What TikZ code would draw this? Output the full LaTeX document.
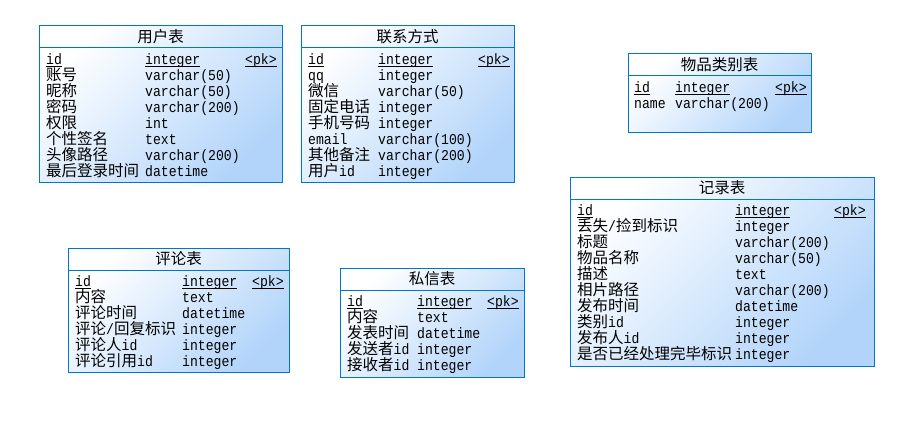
\documentclass[tikz,border=0pt]{standalone}
\usepackage{fontspec}
\newfontfamily\cjk{Noto Sans CJK SC}
\newfontfamily\lat[FakeStretch=0.875]{Liberation Mono}
\newcommand\zh[1]{{\cjk\fontsize{15.5}{16}\selectfont #1}}
\newcommand\ul[1]{\setbox0\hbox{#1}\rlap{\vrule height -1.2pt depth 2.2pt width \wd0}\box0}
\definecolor{erline}{RGB}{0,120,200}
\definecolor{erfill}{RGB}{178,212,250}
\tikzset{
  tbox/.style={draw=erline, line width=1pt, inner sep=0pt, outer sep=0pt,
    top color=white, bottom color=erfill, shading angle=45, anchor=north west},
  hline/.style={draw=erline, line width=1pt},
  ttl/.style={inner sep=0pt, font=\lat\fontsize{15}{16}\selectfont},
  cell/.style={inner sep=0pt, anchor=base west, font=\lat\fontsize{15}{16}\selectfont},
}
\newcommand\ertable[6]{%
  \node[tbox, minimum width=#4pt, minimum height=#5pt] (#1) at (#2,#3) {};
  \draw[hline] ([yshift=-22pt]#1.north west) -- ([yshift=-22pt]#1.north east);
  \node[ttl] (#1-t) at ([yshift=-11pt]#1.north) {\zh{#6}};}
\newcommand\erow[6]{%
  \node[cell] (#1n) at (#2,#4) {#5};
  \node[cell] (#1t) at (#3,#4) {#6};}
\begin{document}
\begin{tikzpicture}[x=1pt,y=-1pt]
\fill[white] (0,0) rectangle (898,436);
\useasboundingbox (0,0) rectangle (898,436);

% 用户表
\ertable{usr}{39}{26}{243}{156}{用户表}
\erow{usr1}{46}{145}{64.5}{\ul{id}}{\ul{integer}}
\node[cell] (usr1p) at (245,64.5) {\ul{<pk>}};
\erow{usr2}{46}{145}{80.5}{\zh{账号}}{varchar(50)}
\erow{usr3}{46}{145}{96.5}{\zh{昵称}}{varchar(50)}
\erow{usr4}{46}{145}{112.5}{\zh{密码}}{varchar(200)}
\erow{usr5}{46}{145}{128.5}{\zh{权限}}{int}
\erow{usr6}{46}{145}{144.5}{\zh{个性签名}}{text}
\erow{usr7}{46}{145}{160.5}{\zh{头像路径}}{varchar(200)}
\erow{usr8}{46}{145}{176.5}{\zh{最后登录时间}}{datetime}

% 联系方式
\ertable{ctc}{301}{26}{213}{156}{联系方式}
\erow{ctc1}{308}{378}{64.5}{\ul{id}}{\ul{integer}}
\node[cell] (ctc1p) at (478,64.5) {\ul{<pk>}};
\erow{ctc2}{308}{378}{80.5}{qq}{integer}
\erow{ctc3}{308}{378}{96.5}{\zh{微信}}{varchar(50)}
\erow{ctc4}{308}{378}{112.5}{\zh{固定电话}}{integer}
\erow{ctc5}{308}{378}{128.5}{\zh{手机号码}}{integer}
\erow{ctc6}{308}{378}{144.5}{email}{varchar(100)}
\erow{ctc7}{308}{378}{160.5}{\zh{其他备注}}{varchar(200)}
\erow{ctc8}{308}{378}{176.5}{\zh{用户}id}{integer}

% 物品类别表
\ertable{cat}{628}{54}{183}{79}{物品类别表}
\erow{cat1}{634}{675}{93}{\ul{id}}{\ul{integer}}
\node[cell] (cat1p) at (775,93) {\ul{<pk>}};
\erow{cat2}{634}{675}{109}{name}{varchar(200)}

% 记录表
\ertable{rec}{570}{177}{304}{189}{记录表}
\erow{rec1}{577}{735}{215.5}{\ul{id}}{\ul{integer}}
\node[cell] (rec1p) at (834,215.5) {\ul{<pk>}};
\erow{rec2}{577}{735}{231.5}{\zh{丢失}/\zh{捡到标识}}{integer}
\erow{rec3}{577}{735}{247.5}{\zh{标题}}{varchar(200)}
\erow{rec4}{577}{735}{263.5}{\zh{物品名称}}{varchar(50)}
\erow{rec5}{577}{735}{279.5}{\zh{描述}}{text}
\erow{rec6}{577}{735}{295.5}{\zh{相片路径}}{varchar(200)}
\erow{rec7}{577}{735}{311.5}{\zh{发布时间}}{datetime}
\erow{rec8}{577}{735}{327.5}{\zh{类别}id}{integer}
\erow{rec9}{577}{735}{343.5}{\zh{发布人}id}{integer}
\erow{rec10}{577}{735}{359.5}{\zh{是否已经处理完毕标识}}{integer}

% 评论表
\ertable{cmt}{68}{248}{221}{124}{评论表}
\erow{cmt1}{75}{182}{286.5}{\ul{id}}{\ul{integer}}
\node[cell] (cmt1p) at (252,286.5) {\ul{<pk>}};
\erow{cmt2}{75}{182}{302.5}{\zh{内容}}{text}
\erow{cmt3}{75}{182}{318.5}{\zh{评论时间}}{datetime}
\erow{cmt4}{75}{182}{334.5}{\zh{评论}/\zh{回复标识}}{integer}
\erow{cmt5}{75}{182}{350.5}{\zh{评论人}id}{integer}
\erow{cmt6}{75}{182}{366.5}{\zh{评论引用}id}{integer}

% 私信表
\ertable{msg}{340}{268}{184}{109}{私信表}
\erow{msg1}{347}{417}{306.5}{\ul{id}}{\ul{integer}}
\node[cell] (msg1p) at (487,306.5) {\ul{<pk>}};
\erow{msg2}{347}{417}{322.5}{\zh{内容}}{text}
\erow{msg3}{347}{417}{338.5}{\zh{发表时间}}{datetime}
\erow{msg4}{347}{417}{354.5}{\zh{发送者}id}{integer}
\erow{msg5}{347}{417}{370.5}{\zh{接收者}id}{integer}
\end{tikzpicture}
\end{document}
